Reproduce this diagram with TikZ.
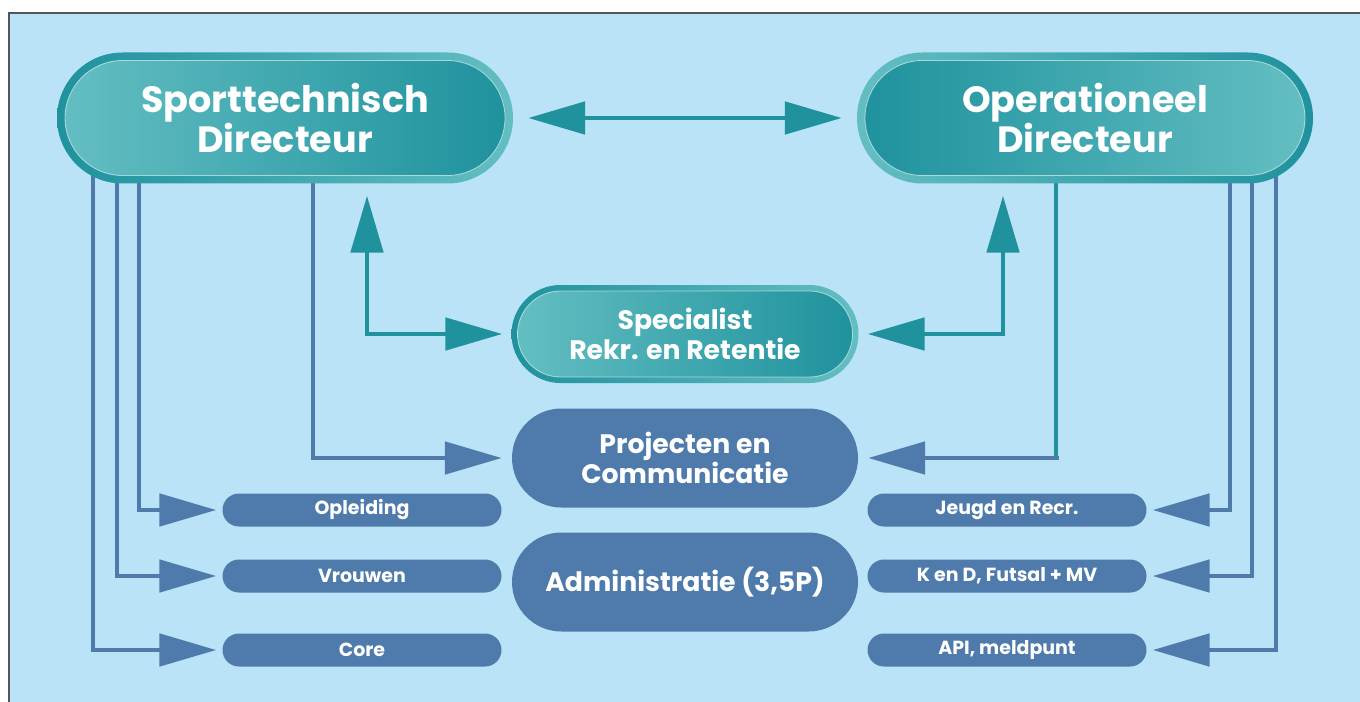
\documentclass[tikz,border=0pt]{standalone}
\usepackage{fontspec}
\setmainfont{Poppins}
\usetikzlibrary{shapes.misc,arrows.meta,backgrounds}

\definecolor{skyblue}{RGB}{186,227,247}
\definecolor{tealdark}{RGB}{31,146,157}
\definecolor{teallight}{RGB}{99,190,194}
\definecolor{steel}{RGB}{78,123,171}
\definecolor{framegray}{RGB}{85,85,85}

\newcommand\PX{0.025cm}
\newcommand\bigfont{\fontsize{26}{28.5}\selectfont\bfseries}
\newcommand\midfont{\fontsize{19}{21.5}\selectfont\bfseries}
\newcommand\smallfont{\fontsize{13.5}{15}\selectfont\bfseries}

\pgfdeclarelayer{bg}
\pgfsetlayers{bg,background,main}

\begin{document}
\begin{tikzpicture}[x=\PX,y=-\PX,>={Triangle[length=1.42cm,width=0.8cm]}]
  \tikzset{
    pill/.style={rounded rectangle, inner sep=0pt, text=white, align=center},
    ringL/.style={pill, left color=tealdark, right color=teallight},
    ringR/.style={pill, left color=teallight, right color=tealdark},
    rim/.style={draw=white, draw opacity=0.55, line width=0.6pt},
    flat/.style={pill, fill=steel},
    tealline/.style={draw=tealdark, line width=0.12cm},
    blueline/.style={draw=steel, line width=0.12cm},
  }
  \useasboundingbox (0,0) rectangle (1360,702);

  % backdrop with its thin frame
  \begin{pgfonlayer}{bg}
    \fill[skyblue] (9,13) rectangle (1360,702);
    \draw[framegray, line width=1pt] (9,702) -- (9,13) -- (1360,13);
  \end{pgfonlayer}

  % the two directors: outer ring plus shaded inner pill
  \node[ringL, minimum width=456*\PX, minimum height=131*\PX] (st) at (285,118) {};
  \node[ringR, rim, minimum width=440*\PX, minimum height=115*\PX, font=\bigfont]
    (st-in) at (st) {Sporttechnisch\\Directeur};
  \node[ringR, minimum width=456*\PX, minimum height=131*\PX] (od) at (1085,118) {};
  \node[ringL, rim, minimum width=440*\PX, minimum height=115*\PX, font=\bigfont]
    (od-in) at (od) {Operationeel\\Directeur};

  % specialist in the middle
  \node[ringL, minimum width=347*\PX, minimum height=98*\PX] (sp) at (685,334) {};
  \node[ringR, rim, minimum width=335*\PX, minimum height=86*\PX, font=\midfont]
    (sp-in) at (sp) {Specialist\\Rekr. en Retentie};

  % staff pills
  \node[flat, minimum width=346*\PX, minimum height=99*\PX, font=\midfont]
    (pc) at (685,458) {Projecten en\\Communicatie};
  \node[flat, minimum width=346*\PX, minimum height=99*\PX, font=\midfont]
    (ad) at (685,582) {Administratie (3,5P)};

  % small team pills, left and right
  \foreach \name/\y/\txt in {op/510/Opleiding, vr/576/Vrouwen, co/650/Core}
    \node[flat, minimum width=279*\PX, minimum height=33*\PX, font=\smallfont]
      (\name) at (362,\y) {\txt};
  \foreach \name/\y/\txt in {jr/510/Jeugd en Recr., kd/576/{K en D, Futsal + MV}, am/650/{API, meldpunt}}
    \node[flat, minimum width=279*\PX, minimum height=33*\PX, font=\smallfont]
      (\name) at (1007,\y) {\txt};

  % connectors, kept behind the pills
  \begin{scope}[on background layer]
    \draw[tealline, <->, shorten <=15*\PX, shorten >=15*\PX] (st.east) -- (od.west);

    \draw[tealline, <->, shorten <=12*\PX, shorten >=9*\PX]
      (367,0 |- st.south) |- (sp.west);
    \draw[tealline, <->, shorten <=12*\PX, shorten >=9*\PX]
      (1003,0 |- od.south) |- (sp.east);

    \draw[blueline, ->, shorten >=10*\PX] (313,0 |- st.center) |- (pc.west);
    \draw[tealline] (1056,0 |- od.center) -- (1056,0 |- pc.center) coordinate (pcR);
    \draw[blueline, ->, shorten >=10*\PX] ([xshift=2.5*\PX]pcR) -- (pc.east);

    \draw[blueline, ->, shorten >=6*\PX] (139,0 |- st.center) |- (op.west);
    \draw[blueline, ->, shorten >=6*\PX] (117,0 |- st.center) |- (vr.west);
    \draw[blueline, ->, shorten >=6*\PX] (93,0 |- st.center) |- (co.west);

    \draw[blueline, ->, shorten >=6*\PX] (1230,0 |- od.center) |- (jr.east);
    \draw[blueline, ->, shorten >=6*\PX] (1252,0 |- od.center) |- (kd.east);
    \draw[blueline, ->, shorten >=6*\PX] (1276,0 |- od.center) |- (am.east);
  \end{scope}
\end{tikzpicture}
\end{document}
